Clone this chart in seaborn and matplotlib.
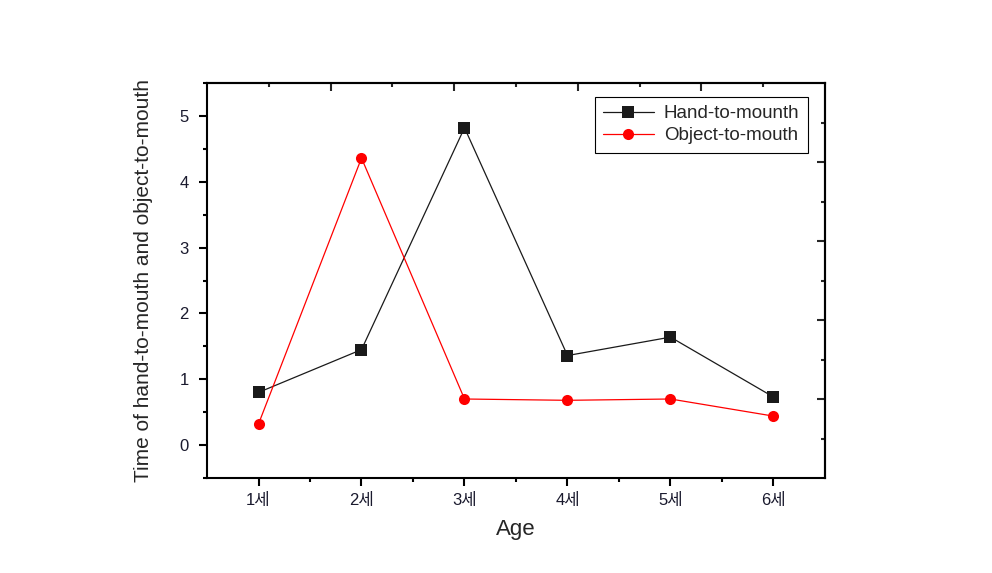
import numpy as np
import pandas as pd
import seaborn as sns
import matplotlib.pyplot as plt
from matplotlib.ticker import MultipleLocator, FixedLocator, NullFormatter

# data
ages = [1, 2, 3, 4, 5, 6]
age_labels = ["1세", "2세", "3세", "4세", "5세", "6세"]
hand_to_mouth = [0.80, 1.45, 4.82, 1.36, 1.64, 0.73]
object_to_mouth = [0.32, 4.36, 0.70, 0.68, 0.70, 0.44]
series_names = ["Hand-to-mounth", "Object-to-mouth"]

sns.set_style("white")
plt.rcParams['font.family'] = ['Liberation Sans', 'Noto Sans CJK KR', 'DejaVu Sans']

df = pd.DataFrame({
    "age": ages * 2,
    "value": hand_to_mouth + object_to_mouth,
    "series": [series_names[0]] * 6 + [series_names[1]] * 6,
})

fig = plt.figure(figsize=(9.92, 5.73), dpi=100)
ax = fig.add_axes([207/992, 1-478/573, (825-207)/992, (478-83)/573])

ax = sns.lineplot(data=df, x="age", y="value", hue="series", style="series",
                  markers={series_names[0]: "s", series_names[1]: "o"},
                  dashes=False, palette={series_names[0]: "#1a1a1a", series_names[1]: "red"},
                  markersize=8, linewidth=0.9, markeredgewidth=0, ax=ax)

ax.set_xlim(0.5, 6.5)
ax.set_ylim(-0.5, 5.5)
ax.set_xticks(ages)
ax.set_xticklabels(age_labels)
ax.xaxis.set_minor_locator(FixedLocator(np.arange(1.5, 6.0, 1.0)))
ax.yaxis.set_major_locator(MultipleLocator(1))
ax.yaxis.set_minor_locator(MultipleLocator(0.5))
ax.set_yticks(range(0, 6))

ax.tick_params(which="major", direction="out", length=6, width=1.5, labelsize=12, color="black", labelcolor="#1a1a2e")
ax.tick_params(which="minor", direction="out", length=3, width=1.5, color="black")
ax.tick_params(axis="x", which="both", bottom=True, pad=5)
ax.tick_params(axis="y", which="both", left=True, pad=7)

for s in ax.spines.values():
    s.set_visible(True)
    s.set_color("black")
    s.set_linewidth(1.5)

ax.set_xlabel("Age", fontsize=16, labelpad=8)
ax.set_ylabel("Time of hand-to-mouth and object-to-mouth", fontsize=15, labelpad=19)

# mirrored axes on top and right with their own tick spacing
top = ax.secondary_xaxis("top")
top.xaxis.set_major_locator(FixedLocator(0.5 + 0.6 * np.arange(2, 10, 2)))
top.xaxis.set_minor_locator(FixedLocator(0.5 + 0.6 * np.arange(1, 10, 2)))
top.xaxis.set_major_formatter(NullFormatter())
top.tick_params(which="major", direction="in", length=6, width=1.5)
top.tick_params(which="minor", direction="in", length=3, width=1.5)
top.spines["top"].set_linewidth(1.5)

right = ax.secondary_yaxis("right")
right.yaxis.set_major_locator(FixedLocator(-0.5 + 0.6 * np.arange(2, 10, 2)))
right.yaxis.set_minor_locator(FixedLocator(-0.5 + 0.6 * np.arange(1, 10, 2)))
right.yaxis.set_major_formatter(NullFormatter())
right.tick_params(which="major", direction="in", length=6, width=1.5)
right.tick_params(which="minor", direction="in", length=3, width=1.5)
right.spines["right"].set_linewidth(1.5)

leg = ax.legend(loc="upper right", bbox_to_anchor=(0.9725, 0.965), fontsize=13.5,
                frameon=True, fancybox=False, edgecolor="black", framealpha=1,
                handlelength=2.7, borderpad=0.45, labelspacing=0.25, handletextpad=0.55,
                borderaxespad=0)
leg.get_frame().set_linewidth(0.8)
leg.set_title(None)

fig.savefig("out.png", dpi=100)
